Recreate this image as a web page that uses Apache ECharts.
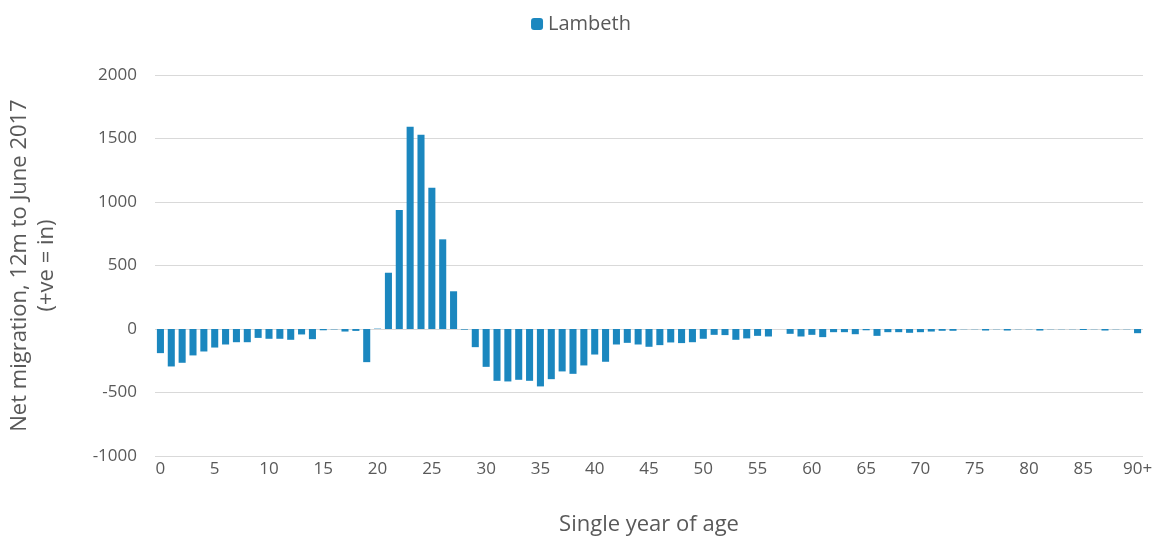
<!DOCTYPE html>
<html>
<head>
<meta charset="utf-8">
<script src="https://cdn.jsdelivr.net/npm/echarts@6/dist/echarts.min.js"></script>
<style>
  html, body { margin: 0; padding: 0; background: #fff; }
  #chart { width: 1162px; height: 538px; }
</style>
</head>
<body>
<div id="chart"></div>
<script>
// 年龄分类 0..89, 90+
var ages = [];
for (var i = 0; i < 90; i++) ages.push(String(i));
ages.push('90+');

// 净迁移人数 (Lambeth)
var lambeth = [
  -190, -295, -266, -208, -177, -146, -122, -104, -104, -70,
  -77, -77, -85, -43, -80, -10, -3, -20, -15, -261,
  3, 443, 937, 1592, 1529, 1112, 706, 297, -5, -143,
  -298, -408, -413, -400, -408, -452, -395, -334, -353, -287,
  -201, -258, -122, -109, -122, -140, -127, -106, -111, -104,
  -77, -46, -48, -85, -74, -54, -59, 0, -38, -59,
  -46, -64, -25, -25, -41, -10, -54, -25, -25, -30,
  -25, -20, -14, -14, -2, -2, -12, -2, -12, -2,
  -2, -12, -2, -2, -2, -8, -2, -12, -2, -2,
  -33
];

var yTicks = { min: -1000, max: 2000, interval: 500 };

var chart = echarts.init(document.getElementById('chart'));
chart.setOption({
  animation: false,
  textStyle: { fontFamily: 'Open Sans' },
  legend: {
    top: 9,
    left: 'center',
    itemWidth: 12,
    itemHeight: 12,
    itemGap: 6,
    textStyle: { fontSize: 20, color: '#595959' },
    data: ['Lambeth']
  },
  grid: { left: 155, right: 19, top: 75, bottom: 82, containLabel: false, outerBoundsMode: 'none' },
  xAxis: {
    type: 'category',
    data: ages,
    name: 'Single year of age',
    nameLocation: 'middle',
    nameGap: 58,
    nameTextStyle: { fontSize: 22, color: '#595959' },
    axisLine: { show: false, onZero: false },
    axisTick: { show: false },
    axisLabel: { interval: 4, fontSize: 17, color: '#595959', margin: 5 }
  },
  yAxis: {
    type: 'value',
    min: yTicks.min,
    max: yTicks.max,
    interval: yTicks.interval,
    name: 'Net migration, 12m to June 2017\n(+ve = in)',
    nameLocation: 'middle',
    nameGap: 95,
    nameTextStyle: { fontSize: 22, color: '#595959', lineHeight: 27 },
    axisLine: { show: false },
    axisTick: { show: false },
    axisLabel: { fontSize: 17, color: '#595959', margin: 18, formatter: function (v) { return String(v); } },
    splitLine: { lineStyle: { color: '#d9d9d9', width: 1 } }
  },
  series: [{
    name: 'Lambeth',
    type: 'bar',
    data: lambeth,
    barCategoryGap: '35%',
    itemStyle: { color: '#1b87bf' }
  }]
});
</script>
</body>
</html>
